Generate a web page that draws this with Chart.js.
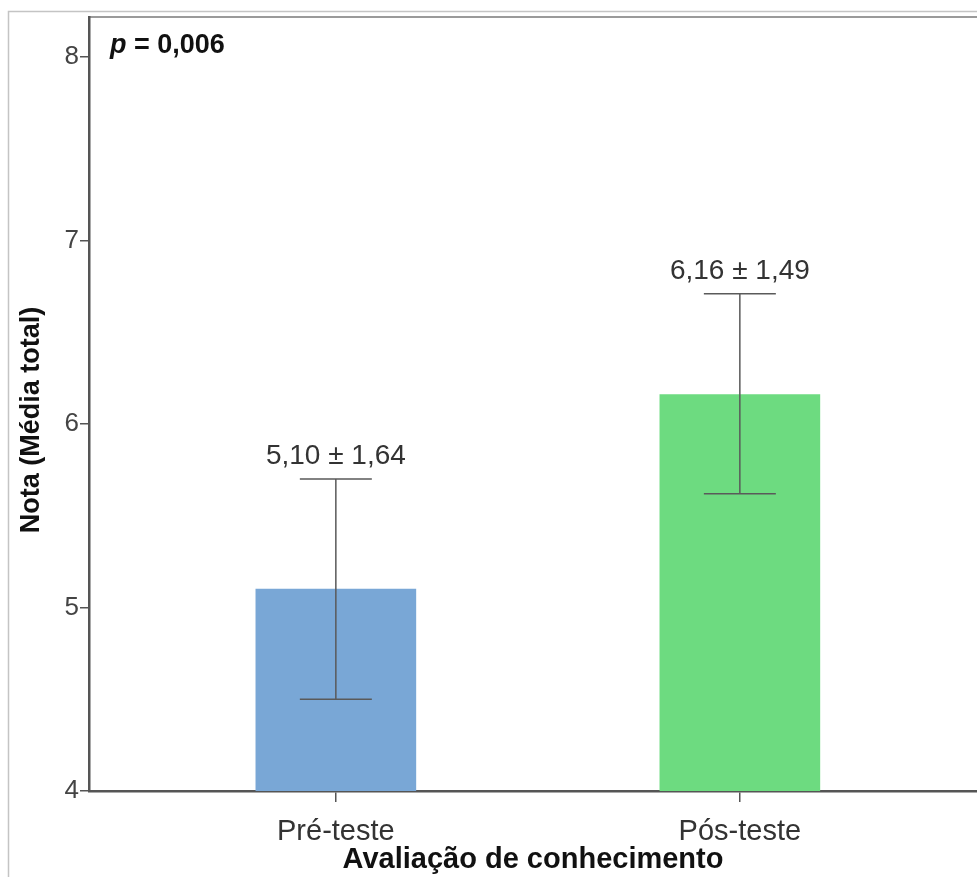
<!DOCTYPE html>
<html>
<head>
<meta charset="utf-8">
<script src="https://cdn.jsdelivr.net/npm/chart.js@4.4.1/dist/chart.umd.min.js"></script>
<style>
  html, body { margin: 0; padding: 0; background: #fff; overflow: hidden; }
  #wrap { width: 977px; height: 877px; }
</style>
</head>
<body>
<div id="wrap"><canvas id="chart"></canvas></div>
<script>
// dados
const categories = ["Pré-teste", "Pós-teste"];
const means = [5.10, 6.16];
const sds = [1.64, 1.49];
const ciLow = [4.50, 5.62];
const ciHigh = [5.70, 6.71];
const barColors = ["#79a7d6", "#6ddb80"];
const yTicks = [4, 5, 6, 7, 8];
const pValue = "0,006";
const yTitle = "Nota (Média total)";

const FONT = '"Liberation Sans", Arial, sans-serif';
Chart.defaults.font.family = FONT;

function fmt(v) {
  return v.toFixed(2).replace(".", ",");
}

// barras de erro + rótulo "média ± dp" + moldura
const errorBarPlugin = {
  id: "errorBars",
  beforeDraw(chart) {
    const ctx = chart.ctx;
    const area = chart.chartArea;
    ctx.save();
    // moldura externa da figura
    ctx.strokeStyle = "#c4c4c4";
    ctx.lineWidth = 1.5;
    ctx.beginPath();
    ctx.moveTo(8.5, chart.height);
    ctx.lineTo(8.5, 11.5);
    ctx.lineTo(chart.width, 11.5);
    ctx.stroke();
    // borda superior da área do gráfico
    ctx.strokeStyle = "#9a9a9a";
    ctx.lineWidth = 2;
    ctx.beginPath();
    ctx.moveTo(area.left, area.top);
    ctx.lineTo(area.right, area.top);
    ctx.stroke();
    ctx.restore();
  },
  afterDatasetsDraw(chart) {
    const ctx = chart.ctx;
    const xs = chart.scales.x;
    const ys = chart.scales.y;
    ctx.save();
    ctx.strokeStyle = "#5a5a5a";
    ctx.lineWidth = 1.5;
    means.forEach((m, i) => {
      const x = xs.getPixelForValue(i);
      const yLo = ys.getPixelForValue(ciLow[i]);
      const yHi = ys.getPixelForValue(ciHigh[i]);
      ctx.beginPath();
      ctx.moveTo(x, yLo);
      ctx.lineTo(x, yHi);
      ctx.moveTo(x - 36, yLo);
      ctx.lineTo(x + 36, yLo);
      ctx.moveTo(x - 36, yHi);
      ctx.lineTo(x + 36, yHi);
      ctx.stroke();

      ctx.fillStyle = "#333";
      ctx.font = "28px " + FONT;
      ctx.textAlign = "center";
      ctx.textBaseline = "alphabetic";
      ctx.fillText(fmt(m) + " ± " + fmt(sds[i]), x, yHi - 15);
    });

    // valor de p
    const area = chart.chartArea;
    let px = area.left + 21;
    const py = area.top + 36;
    ctx.fillStyle = "#111";
    ctx.textAlign = "left";
    ctx.font = "italic bold 27px " + FONT;
    ctx.fillText("p", px, py);
    px += ctx.measureText("p").width;
    ctx.font = "bold 27px " + FONT;
    ctx.fillText(" = " + pValue, px, py);

    // título do eixo y
    ctx.translate(32, 420);
    ctx.rotate(-Math.PI / 2);
    ctx.textAlign = "center";
    ctx.textBaseline = "middle";
    ctx.font = "bold 27px " + FONT;
    ctx.fillText(yTitle, 0, 0);
    ctx.restore();
  }
};

new Chart(document.getElementById("chart"), {
  type: "bar",
  data: {
    datasets: [{
      data: means.map((m, i) => ({ x: i, y: m })),
      backgroundColor: barColors,
      borderWidth: 0,
      barThickness: 160
    }]
  },
  options: {
    responsive: true,
    maintainAspectRatio: false,
    animation: false,
    layout: { padding: { top: 17, left: 0, right: 0, bottom: 0 } },
    plugins: {
      legend: { display: false },
      tooltip: { enabled: false }
    },
    scales: {
      x: {
        type: "linear",
        min: -0.611,
        max: 1.587,
        offset: false,
        afterBuildTicks: (s) => { s.ticks = categories.map((c, i) => ({ value: i })); },
        afterFit: (s) => { s.height = 86; },
        ticks: {
          callback: (v) => categories[v],
          font: { size: 29 },
          color: "#333",
          padding: 13,
          maxRotation: 0
        },
        grid: { offset: false, drawOnChartArea: false, tickLength: 11, color: "#555", lineWidth: 1.5 },
        border: { color: "#555", width: 2.5 },
        title: {
          display: true,
          text: "Avaliação de conhecimento",
          font: { size: 29, weight: "bold" },
          color: "#111",
          padding: { top: 0, bottom: 0 }
        }
      },
      y: {
        min: 4,
        max: 8.218,
        afterBuildTicks: (s) => { s.ticks = yTicks.map((v) => ({ value: v })); },
        afterFit: (s) => { s.width = 89; },
        ticks: { font: { size: 26 }, color: "#444", padding: 1 },
        grid: { drawOnChartArea: false, tickLength: 9, color: "#555", lineWidth: 1.5 },
        border: { color: "#555", width: 2.5 }
      }
    }
  },
  plugins: [errorBarPlugin]
});
</script>
</body>
</html>
